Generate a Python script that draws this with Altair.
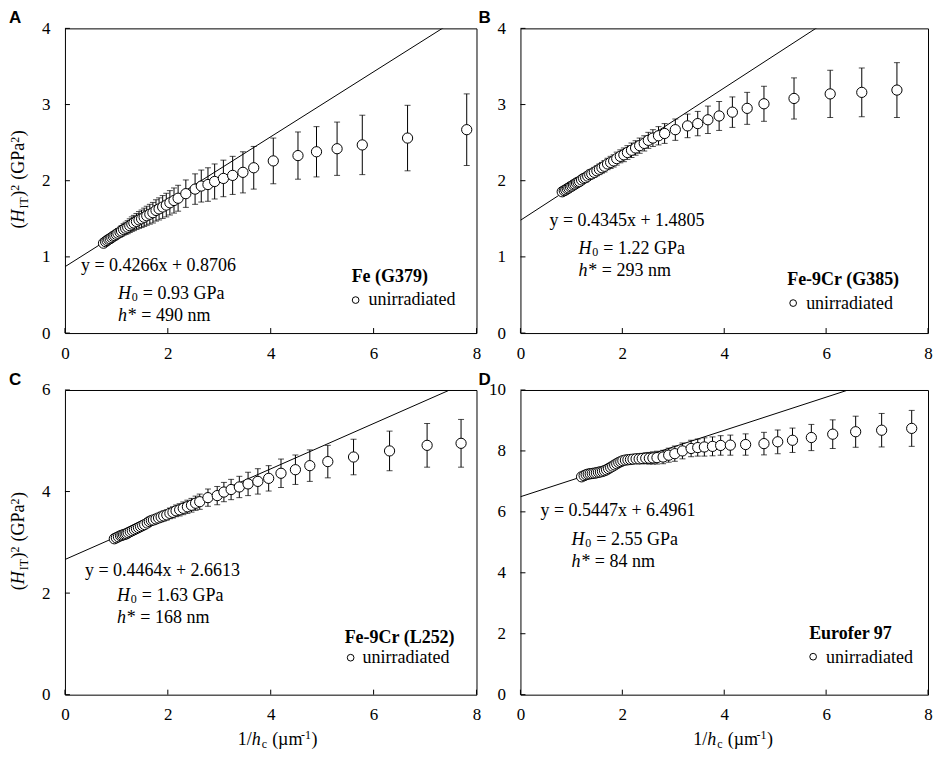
import altair as alt
import pandas as pd

# ---------------- data ----------------
A_x = [0.75, 0.79, 0.82, 0.85, 0.88, 0.91, 0.94, 0.97, 1.00, 1.03,
       1.07, 1.10, 1.14, 1.18, 1.22, 1.26, 1.30, 1.34, 1.39, 1.44,
       1.49, 1.54, 1.59, 1.65, 1.71, 1.77, 1.83, 1.90, 1.97, 2.04,
       2.12, 2.20, 2.35, 2.53, 2.65, 2.78, 2.91, 3.08, 3.26, 3.46,
       3.67, 4.05, 4.53, 4.89, 5.29, 5.78, 6.66, 7.81]
A_y = [1.18, 1.20, 1.215, 1.23, 1.24, 1.255, 1.27, 1.28, 1.295, 1.31,
       1.325, 1.34, 1.36, 1.375, 1.39, 1.41, 1.43, 1.445, 1.465, 1.485,
       1.50, 1.52, 1.54, 1.56, 1.58, 1.61, 1.63, 1.655, 1.68, 1.71,
       1.74, 1.77, 1.83, 1.89, 1.93, 1.95, 1.99, 2.03, 2.07, 2.11,
       2.17, 2.26, 2.33, 2.38, 2.42, 2.47, 2.56, 2.67]
A_err = [0.03, 0.03, 0.035, 0.04, 0.04, 0.045, 0.05, 0.05, 0.055, 0.06,
         0.065, 0.07, 0.075, 0.08, 0.085, 0.09, 0.095, 0.10, 0.105, 0.11,
         0.115, 0.12, 0.125, 0.13, 0.135, 0.14, 0.145, 0.15, 0.155, 0.16,
         0.165, 0.17, 0.18, 0.20, 0.21, 0.22, 0.23, 0.24, 0.25, 0.27,
         0.28, 0.30, 0.31, 0.33, 0.35, 0.39, 0.43, 0.47]

B_x = [0.82, 0.86, 0.89, 0.92, 0.95, 0.98, 1.01, 1.04, 1.07, 1.10,
       1.13, 1.16, 1.20, 1.24, 1.28, 1.32, 1.36, 1.40, 1.45, 1.50,
       1.55, 1.60, 1.65, 1.71, 1.77, 1.83, 1.89, 1.96, 2.03, 2.10,
       2.18, 2.26, 2.34, 2.43, 2.51, 2.60, 2.71, 2.83, 3.04, 3.28,
       3.48, 3.68, 3.90, 4.16, 4.45, 4.78, 5.37, 6.08, 6.70, 7.39]
B_y = [1.855, 1.87, 1.88, 1.895, 1.905, 1.92, 1.93, 1.945, 1.955, 1.97,
       1.98, 1.99, 2.01, 2.03, 2.04, 2.06, 2.08, 2.09, 2.11, 2.13,
       2.15, 2.17, 2.19, 2.22, 2.24, 2.26, 2.29, 2.32, 2.34, 2.37,
       2.40, 2.43, 2.46, 2.49, 2.53, 2.56, 2.59, 2.62, 2.67, 2.72,
       2.75, 2.80, 2.85, 2.90, 2.95, 3.01, 3.08, 3.14, 3.16, 3.19]
B_err = [0.02, 0.02, 0.025, 0.025, 0.03, 0.03, 0.035, 0.035, 0.04, 0.04,
         0.045, 0.045, 0.05, 0.05, 0.055, 0.055, 0.06, 0.06, 0.065, 0.065,
         0.07, 0.07, 0.075, 0.075, 0.08, 0.08, 0.085, 0.085, 0.09, 0.09,
         0.095, 0.095, 0.10, 0.10, 0.105, 0.11, 0.12, 0.13, 0.14, 0.155,
         0.16, 0.18, 0.19, 0.20, 0.21, 0.23, 0.27, 0.31, 0.32, 0.36]

C_x = [0.96, 1.00, 1.04, 1.08, 1.11, 1.14, 1.17, 1.20, 1.23, 1.27,
       1.31, 1.35, 1.39, 1.43, 1.47, 1.51, 1.55, 1.60, 1.64, 1.68,
       1.72, 1.77, 1.82, 1.87, 1.92, 1.98, 2.04, 2.10, 2.16, 2.23,
       2.30, 2.38, 2.46, 2.54, 2.62, 2.78, 2.96, 3.09, 3.23, 3.39,
       3.56, 3.75, 3.96, 4.20, 4.48, 4.76, 5.11, 5.61, 6.31, 7.04, 7.70]
C_y = [3.07, 3.09, 3.11, 3.13, 3.14, 3.15, 3.16, 3.17, 3.19, 3.21,
       3.23, 3.25, 3.27, 3.29, 3.31, 3.33, 3.35, 3.38, 3.41, 3.43,
       3.44, 3.46, 3.48, 3.50, 3.52, 3.54, 3.57, 3.59, 3.62, 3.64,
       3.67, 3.70, 3.73, 3.77, 3.80, 3.88, 3.92, 3.99, 4.04, 4.09,
       4.15, 4.20, 4.26, 4.36, 4.43, 4.51, 4.59, 4.68, 4.80, 4.91, 4.95]
C_err = [0.03, 0.03, 0.035, 0.035, 0.04, 0.04, 0.045, 0.045, 0.05, 0.05,
         0.055, 0.055, 0.06, 0.06, 0.065, 0.065, 0.07, 0.075, 0.08, 0.08,
         0.085, 0.09, 0.09, 0.095, 0.10, 0.10, 0.105, 0.11, 0.115, 0.12,
         0.125, 0.13, 0.135, 0.14, 0.15, 0.17, 0.18, 0.19, 0.20, 0.21,
         0.23, 0.25, 0.25, 0.28, 0.29, 0.31, 0.32, 0.35, 0.39, 0.43, 0.47]

D_x = [1.20, 1.25, 1.29, 1.33, 1.37, 1.41, 1.45, 1.49, 1.53, 1.57,
       1.61, 1.65, 1.69, 1.73, 1.77, 1.81, 1.85, 1.89, 1.93, 1.97,
       2.01, 2.06, 2.11, 2.16, 2.21, 2.27, 2.33, 2.39, 2.46, 2.53,
       2.60, 2.68, 2.80, 2.91, 3.03, 3.18, 3.35, 3.48, 3.61, 3.77,
       3.93, 4.12, 4.42, 4.78, 5.05, 5.34, 5.71, 6.13, 6.58, 7.09, 7.68]
D_y = [7.15, 7.19, 7.22, 7.24, 7.25, 7.26, 7.27, 7.28, 7.30, 7.31,
       7.33, 7.35, 7.38, 7.42, 7.46, 7.50, 7.54, 7.58, 7.62, 7.65,
       7.68, 7.70, 7.71, 7.72, 7.73, 7.74, 7.74, 7.75, 7.76, 7.76,
       7.77, 7.78, 7.80, 7.86, 7.91, 8.00, 8.08, 8.11, 8.13, 8.15,
       8.18, 8.19, 8.21, 8.24, 8.30, 8.35, 8.44, 8.55, 8.63, 8.68, 8.74]
D_err = [0.04, 0.04, 0.045, 0.045, 0.05, 0.05, 0.055, 0.055, 0.06, 0.06,
         0.065, 0.07, 0.075, 0.08, 0.085, 0.09, 0.095, 0.10, 0.105, 0.11,
         0.115, 0.12, 0.125, 0.13, 0.14, 0.15, 0.16, 0.17, 0.18, 0.19,
         0.20, 0.21, 0.22, 0.23, 0.25, 0.26, 0.27, 0.28, 0.30, 0.31,
         0.32, 0.33, 0.35, 0.37, 0.39, 0.40, 0.43, 0.47, 0.51, 0.55, 0.59]

# linear fits shown in the panels (slope, intercept)
A_fit = (0.4266, 0.8706)
B_fit = (0.4345, 1.4805)
C_fit = (0.4464, 2.6613)
D_fit = (0.5447, 6.4961)

X_TICKS = [0, 2, 4, 6, 8]
A_YTICKS = [0, 1, 2, 3, 4]
B_YTICKS = [0, 1, 2, 3, 4]
C_YTICKS = [0, 2, 4, 6]
D_YTICKS = [0, 2, 4, 6, 8, 10]

A_TEXT = ["y = 0.4266x + 0.8706", " = 0.93 GPa", "* = 490 nm", "Fe (G379)"]
B_TEXT = ["y = 0.4345x + 1.4805", " = 1.22 GPa", "* = 293 nm", "Fe-9Cr (G385)"]
C_TEXT = ["y = 0.4464x + 2.6613", " = 1.63 GPa", "* = 168 nm", "Fe-9Cr (L252)"]
D_TEXT = ["y = 0.5447x + 6.4961", " = 2.55 GPa", "* = 84 nm", "Eurofer 97"]
LEGEND_LABEL = "unirradiated"

# ---------------- styling / layout ----------------
SERIF = "Liberation Serif"
SANS = "Liberation Sans"
H = 305
W_LEFT = 412
W_RIGHT = 408
FS = 18

EM = {'(': .333, ')': .333, 'H': .722, 'I': .333, 'T': .611, ' ': .25, 'G': .722,
      'P': .556, 'a': .444, '/': .278, 'h': .5, 'c': .444, 'µ': .5, 'm': .778,
      '-': .333, '=': .564, '.': .25, 'n': .5, '*': .5}


def tw(s, size):
    return sum(EM.get(ch, 0.5) for ch in s) * size


def seg(text, x, y, size=FS, style="normal", weight="normal", angle=0, font=SERIF):
    return alt.Chart(pd.DataFrame({"t": [text]})).mark_text(
        font=font, fontSize=size, fontStyle=style, fontWeight=weight,
        angle=angle, align="left", baseline="alphabetic", color="black"
    ).encode(x=alt.value(x), y=alt.value(y), text="t:N")


def run(parts, x0, y0, vertical=False):
    layers = []
    adv = 0.0
    for text, size, style, dv in parts:
        body = text.lstrip(" ")
        adv += tw(text[:len(text) - len(body)], size)   # SVG drops leading spaces
        if vertical:
            layers.append(seg(body, x0 + dv, y0 - adv, size, style, angle=270))
        else:
            layers.append(seg(body, x0 + adv, y0 + dv, size, style))
        adv += tw(body, size) + (1 if style == "italic" else 0) + (0.5 if dv else 0)
    return layers


YTITLE = [("(", FS, "normal", 0), ("H", FS, "italic", 0), ("IT", 12, "normal", 4),
          (")", FS, "normal", 0), ("2", 12, "normal", -5), (" (GPa", FS, "normal", 0),
          ("2", 12, "normal", -5), (")", FS, "normal", 0)]
XTITLE = [("1/", FS, "normal", 0), ("h", FS, "italic", 0), ("c", 12, "normal", 3),
          (" (µm", FS, "normal", 0), ("-1", 12, "normal", -6), (")", FS, "normal", 0)]


def panel(xs, ys, es, fit, ymax, yticks, texts, letter, pos, width, left, bottom):
    xscale = alt.Scale(domain=[0, 8], nice=False, zero=False)
    yscale = alt.Scale(domain=[0, ymax], nice=False, zero=False)
    xaxis = alt.Axis(values=X_TICKS, title=None, labelFlush=False, grid=False,
                     ticks=False, domain=False, labelPadding=12)
    yaxis = alt.Axis(values=yticks, title=None, labelFlush=False, grid=False,
                     ticks=False, domain=False, labelPadding=15)

    def X(f):
        return alt.X(f, type="quantitative", scale=xscale, axis=xaxis)

    def Y(f):
        return alt.Y(f, type="quantitative", scale=yscale, axis=yaxis)

    df = pd.DataFrame({"x": xs, "y": ys, "e": es})
    df["lo"] = df["y"] - df["e"]
    df["hi"] = df["y"] + df["e"]
    a, b = fit
    fit_df = pd.DataFrame({"x": [0, 8], "y": [b, a * 8 + b]})

    line = alt.Chart(fit_df).mark_line(color="black", strokeWidth=1, clip=True).encode(
        x=X("x"), y=Y("y"))
    bars = alt.Chart(df).mark_rule(color="black", strokeWidth=1).encode(
        x=X("x"), y=Y("lo"), y2="hi")
    cap_lo = alt.Chart(df).mark_tick(color="black", orient="horizontal", size=6,
                                     thickness=1).encode(x=X("x"), y=Y("lo"))
    cap_hi = alt.Chart(df).mark_tick(color="black", orient="horizontal", size=6,
                                     thickness=1).encode(x=X("x"), y=Y("hi"))
    pts = alt.Chart(df).mark_point(shape="circle", filled=True, fill="white",
                                   stroke="black", strokeWidth=1, size=105,
                                   opacity=1).encode(x=X("x"), y=Y("y"))
    xt = alt.Chart(pd.DataFrame({"v": X_TICKS})).mark_rule(color="black").encode(
        x=X("v"), y=alt.value(H), y2=alt.value(H - 5))
    yt = alt.Chart(pd.DataFrame({"v": yticks})).mark_rule(color="black").encode(
        y=Y("v"), x=alt.value(0), x2=alt.value(5))

    (eqx, eqy), (hx, hy), (h2y,), (lgx, lgy), (cx, cy), (lbx, lby) = pos
    layers = [line, bars, cap_lo, cap_hi, pts, xt, yt]
    layers.append(seg(texts[0], eqx, eqy))
    layers += run([("H", FS, "italic", 0), ("0", 12, "normal", 2),
                   (texts[1], FS, "normal", 0)], hx, hy)
    layers += run([("h", FS, "italic", 0), (texts[2], FS, "normal", 0)], hx, h2y)
    layers.append(seg(texts[3], lgx, lgy, weight="bold"))
    layers.append(alt.Chart(pd.DataFrame({"k": [1]})).mark_point(
        shape="circle", filled=True, fill="white", stroke="black", strokeWidth=1,
        size=45, opacity=1).encode(x=alt.value(cx), y=alt.value(cy)))
    layers.append(seg(LEGEND_LABEL, lbx, lby))
    layers.append(seg(letter, -56 if left else -42, -5, size=17, weight="bold", font=SANS))
    if left:
        ly = sum(tw(t, s) for t, s, _, _ in YTITLE)
        layers += run(YTITLE, -41, H / 2 + ly / 2, vertical=True)
    if bottom:
        lx = sum(tw(t, s) for t, s, _, _ in XTITLE)
        layers += run(XTITLE, 212 - lx / 2, H + 50)
    return alt.layer(*layers).properties(width=width, height=H)


pA = panel(A_x, A_y, A_err, A_fit, 4, A_YTICKS, A_TEXT, "A",
           [(16, 243), (53, 271), (293,), (287, 254), (291, 272), (304, 277)],
           W_LEFT, True, False)
pB = panel(B_x, B_y, B_err, B_fit, 4, B_YTICKS, B_TEXT, "B",
           [(29, 198), (58, 226), (248,), (267, 257), (273, 275), (286, 281)],
           W_RIGHT, False, False)
pC = panel(C_x, C_y, C_err, C_fit, 6, C_YTICKS, C_TEXT, "C",
           [(20, 186), (52, 211), (233,), (280, 253), (286, 268), (298, 273)],
           W_LEFT, True, True)
pD = panel(D_x, D_y, D_err, D_fit, 10, D_YTICKS, D_TEXT, "D",
           [(20, 126), (51, 155), (177,), (289, 249), (293, 267), (306, 273)],
           W_RIGHT, False, True)

chart = alt.concat(pA, pB, pC, pD, columns=2,
                   spacing={"row": 57, "column": 44}, bounds="flush").properties(
    padding={"left": 0, "top": 0, "right": 0, "bottom": 0}
).configure_view(stroke="black", strokeWidth=1).configure_axis(
    labelFont=SERIF, labelFontSize=17, labelColor="black"
)

chart.save("out.html", embed_options={"renderer": "svg", "actions": False})
